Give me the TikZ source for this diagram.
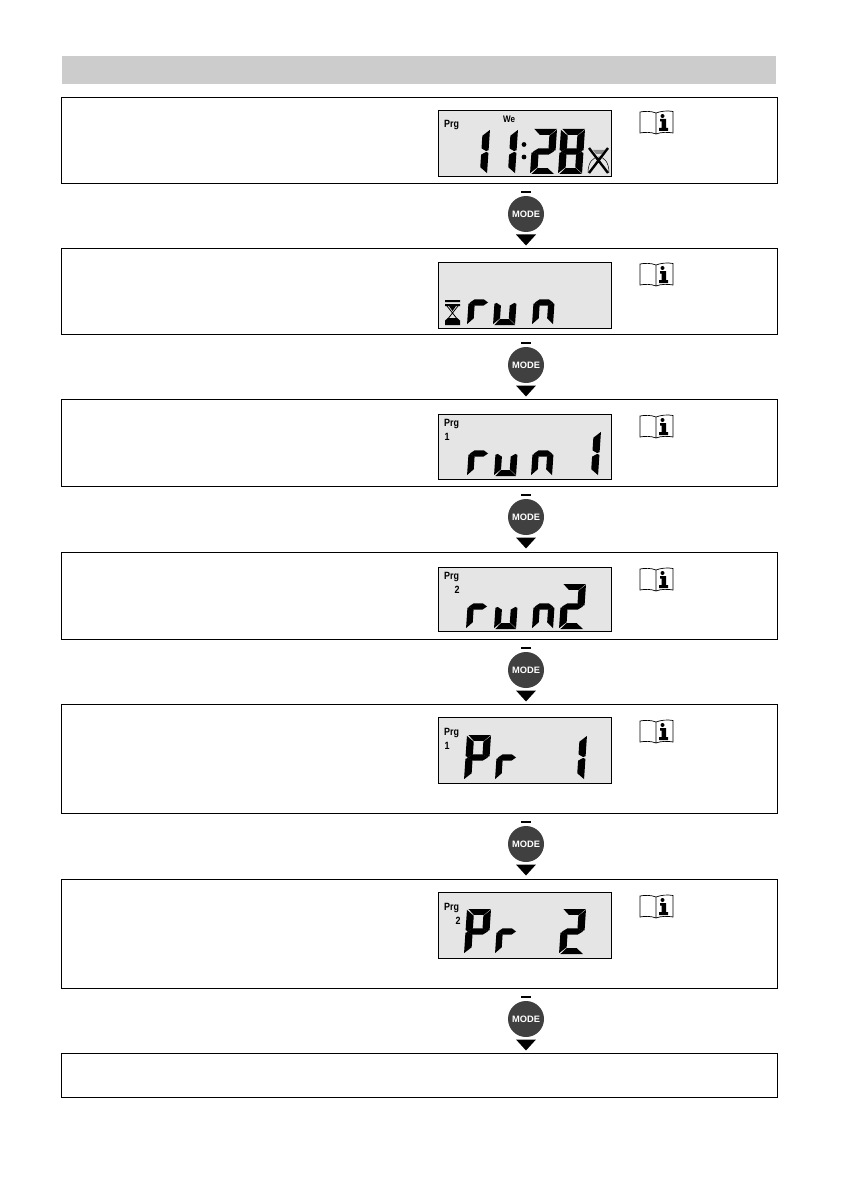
\documentclass[tikz,border=0pt]{standalone}
\usepackage{fontspec}
\setmainfont{Liberation Sans}
\newfontfamily\lcdfont[FakeStretch=0.85]{Liberation Sans}
\def\sega{\fill (0.06,0)--(1,0)--(0.72,0.13)--(0.3,0.13)--cycle;}
\def\segb{\fill (1,0.02)--(1,0.47)--(0.9,0.49)--(0.7,0.43)--(0.7,0.15)--cycle;}
\def\segc{\fill (1,0.53)--(1,0.98)--(0.7,0.85)--(0.7,0.57)--(0.9,0.51)--cycle;}
\def\segd{\fill (0.06,1)--(0.3,0.87)--(0.72,0.87)--(1,1)--cycle;}
\def\sege{\fill (0,0.53)--(0.1,0.51)--(0.3,0.57)--(0.3,0.85)--(0,0.98)--cycle;}
\def\segf{\fill (0,0.02)--(0.3,0.15)--(0.3,0.43)--(0.1,0.49)--(0,0.47)--cycle;}
\def\segg{\fill (0.07,0.5)--(0.28,0.43)--(0.72,0.43)--(0.93,0.5)--(0.72,0.57)--(0.28,0.57)--cycle;}
% x y width segments
\newcommand\lcdchar[4]{\begin{scope}[shift={(#1,#2)},x={(#3pt,0pt)},y={(-3pt,-45pt)}]
\foreach \q in {#4}{\csname seg\q\endcsname}\end{scope}}
\newcommand\infobook[2]{\begin{scope}[shift={(#1,#2)}]
\draw[line width=0.7pt] (0,1) .. controls (5,0) and (11,0) .. (16,2) .. controls (21,0) and (28,-0.5) .. (33,0.5) -- (33,22)
 .. controls (28,21) and (21,21) .. (16,23) .. controls (11,21) and (5,21) .. (0,22) -- cycle (16,2) -- (16,23);
\fill (22.5,5) circle (2);
\fill (20,8) -- (26,8) -- (26,17) -- (28,17) -- (28,20) -- (19,20) -- (19,17) -- (21.5,17) -- (21.5,10.5) -- (20,10.5) -- cycle;
\end{scope}}
\tikzset{
 flowbox/.style={draw=black,line width=0.9pt,fill=white,minimum width=716pt,anchor=north west,inner sep=0pt},
 lcd/.style={draw=black,line width=0.9pt,fill=black!10,minimum width=173pt,anchor=north west,inner sep=0pt},
 btn/.style={circle,fill=black!75,text=white,minimum size=36pt,inner sep=0pt,font=\fontsize{9.3}{9.3}\selectfont\bfseries},
 lbl/.style={font=\fontsize{10.5}{10.5}\lcdfont\bfseries,inner sep=0pt,anchor=west},
}
\begin{document}
\begin{tikzpicture}[x=1pt,y=-1pt]
\useasboundingbox (0,0) rectangle (840,1190);
\fill[white] (0,0) rectangle (840,1190);
\node[anchor=north west,fill=black!20,minimum width=714pt,minimum height=28pt,inner sep=0pt] (header) at (62,56) {};
\node[flowbox,minimum height=86pt] (b1) at (61,97) {};
\node[flowbox,minimum height=86pt] (b2) at (61,248) {};
\node[flowbox,minimum height=87pt] (b3) at (61,399) {};
\node[flowbox,minimum height=87pt] (b4) at (61,552) {};
\node[flowbox,minimum height=109pt] (b5) at (61,704) {};
\node[flowbox,minimum height=109pt] (b6) at (61,879) {};
\node[flowbox,minimum height=44pt] (b7) at (61,1053) {};
\node[lcd,minimum height=66pt] (l1) at (438,110) {};
\node[lcd,minimum height=66pt] (l2) at (438,262) {};
\node[lcd,minimum height=65pt] (l3) at (438,414) {};
\node[lcd,minimum height=64pt] (l4) at (438,567) {};
\node[lcd,minimum height=66pt] (l5) at (438,717) {};
\node[lcd,minimum height=66pt] (l6) at (438,892) {};
\infobook{640}{111}\infobook{640}{263}\infobook{640}{415}\infobook{640}{568}\infobook{640}{720}\infobook{640}{895}
% buttons
\foreach \n/\y in {m1/214,m2/365,m3/517,m4/670,m5/844,m6/1019}{
 \fill (521,\y-23.2) rectangle (531,\y-20.6);
 \fill (516,\y+20.5) -- (536,\y+20.5) -- (526,\y+31.5) -- cycle;
 \node[btn] (\n) at (526,\y) {MODE};
}
% display 1
\node[lbl] (p1) at (444,125.5) {Prg};
\node[lbl,font=\fontsize{9.5}{9.5}\lcdfont\bfseries,anchor=center] (we) at (509,119) {We};
\lcdchar{466}{129}{24}{b,c}
\lcdchar{494}{129}{24}{b,c}
\fill (524,144.5) circle (2.4) (524,157) circle (2.4);
\lcdchar{533}{129}{24}{a,b,g,e,d}
\lcdchar{561}{129}{24}{a,b,c,d,e,f,g}
\draw[line width=0.5pt] (588,173) .. controls (588,162) and (593,157) .. (599,157) .. controls (604,157) and (609,162) .. (609,173);
\fill[black!45] (593,150) -- (605,150) -- (602,154) -- (596,154) -- cycle;
\draw[line width=2.4pt] (589,148) -- (608,173) (608,148) -- (589,173);
% display 2
\fill (445,300) rectangle (460,302) (445,304) rectangle (460,306);
\draw[line width=0.8pt] (447,306) -- (458,320) (458,306) -- (447,320);
\fill (449,306) -- (456,306) -- (452.5,311) -- cycle;
\fill (445,320.5) -- (448,318) -- (457,318) -- (460,320.5) -- (460,325) -- (445,325) -- cycle;
\lcdchar{470}{280}{21}{e,g}
\lcdchar{496}{280}{22}{e,d,c}
\lcdchar{535}{280}{21}{e,g,c}
% display 3
\node[lbl] (p3) at (444,424) {Prg};
\node[lbl,anchor=center] (n3) at (447,437) {1};
\lcdchar{470}{431}{21}{e,g}
\lcdchar{497}{431}{22}{e,d,c}
\lcdchar{534}{431}{21}{e,g,c}
\lcdchar{577}{431}{24}{b,c}
% display 4
\node[lbl] (p4) at (444,577) {Prg};
\node[lbl,anchor=center] (n4) at (457,590) {2};
\lcdchar{469}{584}{21}{e,g}
\lcdchar{497}{584}{22}{e,d,c}
\lcdchar{535}{584}{21}{e,g,c}
\lcdchar{562}{584}{24}{a,b,g,e,d}
% display 5
\node[lbl] (p5) at (444,733) {Prg};
\node[lbl,anchor=center] (n5) at (447,746) {1};
\lcdchar{467}{735}{24}{a,b,e,f,g}
\lcdchar{498}{735}{21}{e,g}
\lcdchar{563}{735}{24}{b,c}
% display 6
\node[lbl] (p6) at (444,908) {Prg};
\node[lbl,anchor=center] (n6) at (458,921) {2};
\lcdchar{467}{909}{24}{a,b,e,f,g}
\lcdchar{498}{909}{21}{e,g}
\lcdchar{562}{909}{24}{a,b,g,e,d}
\end{tikzpicture}
\end{document}
